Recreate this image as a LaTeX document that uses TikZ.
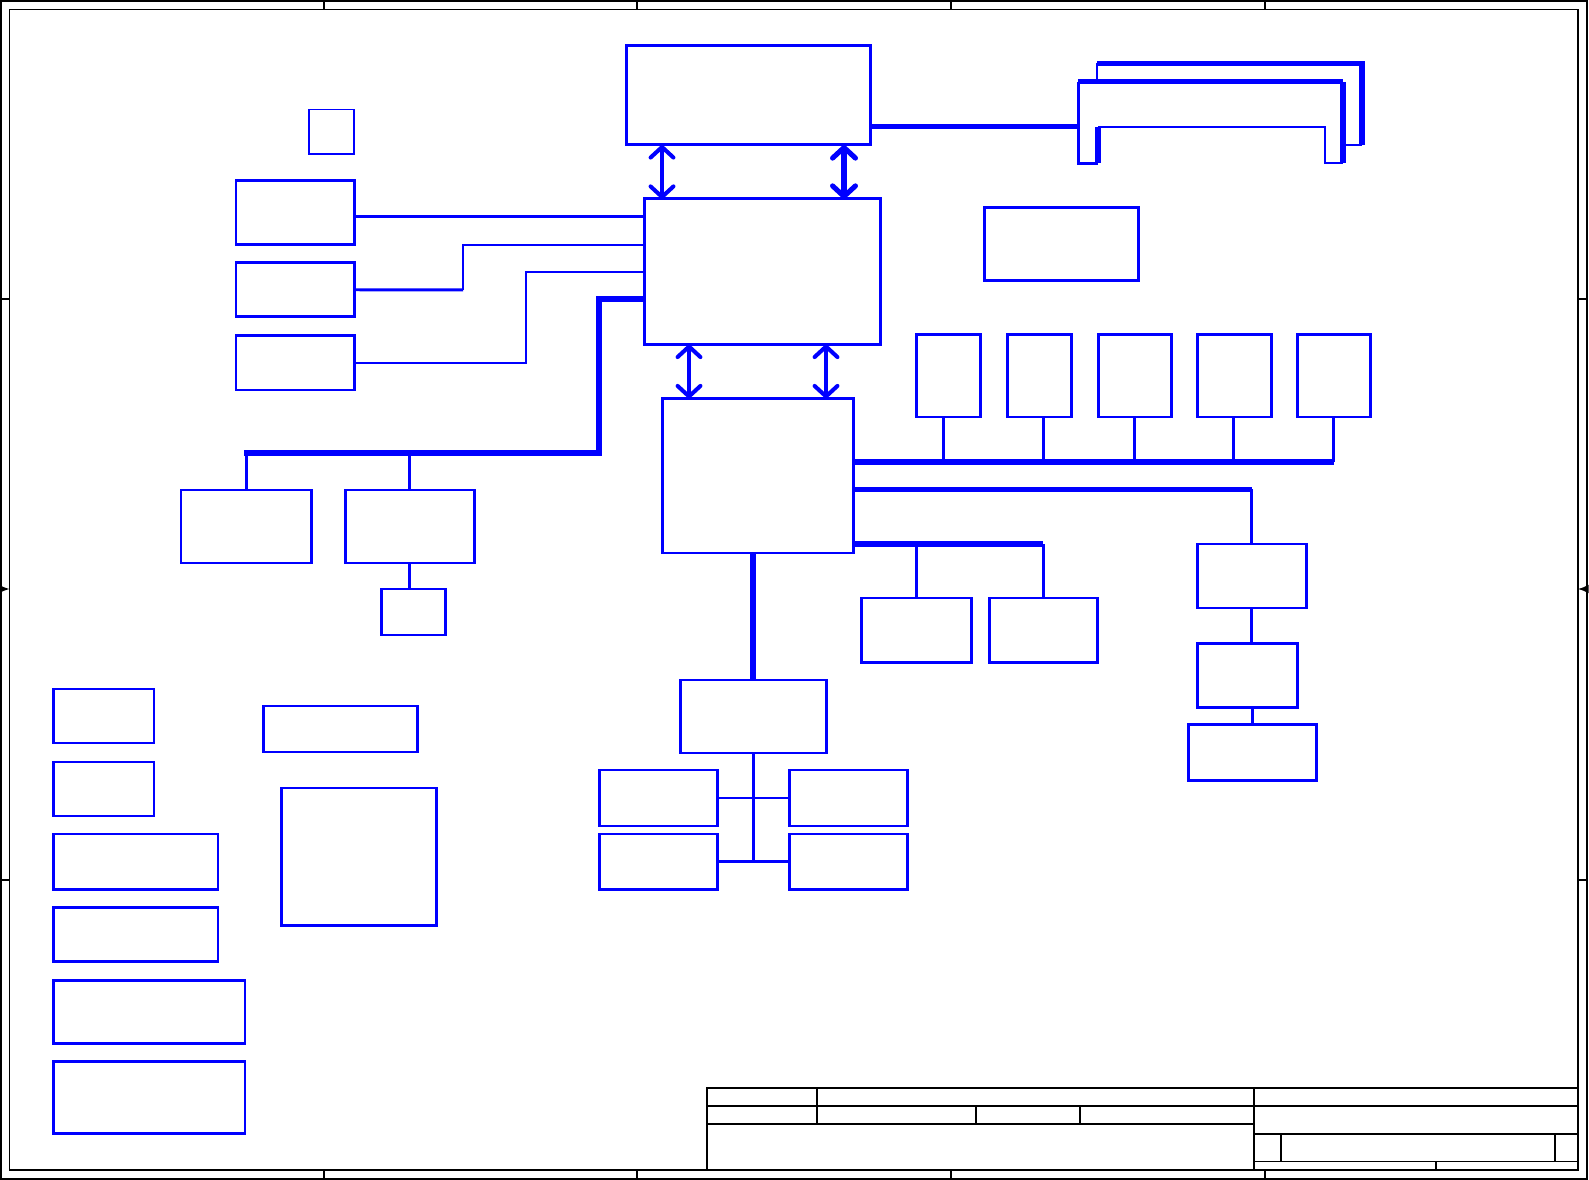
\documentclass[tikz,border=0pt]{standalone}
\usetikzlibrary{arrows.meta, calc, fit, positioning}

\tikzset{
  blk/.style={draw=blue, line width=0.85pt, inner sep=0pt, outer sep=0pt},
  thinblk/.style={draw=blue, line width=0.4pt, inner sep=0pt, outer sep=0pt},
  wire/.style={blue, line width=0.85pt},
  fine/.style={blue, line width=0.55pt},
  bus/.style={blue, line width=1.5pt},
  dblarr/.style={blue, line width=1.15pt,
    {Straight Barb[round, length=3pt, width=6.5pt]}-{Straight Barb[round, length=3pt, width=6.5pt]}},
  frm/.style={black, line width=0.45pt},
}

\begin{document}
\begin{tikzpicture}[x=0.01cm, y=-0.01cm]
  \useasboundingbox (0,0) rectangle (1589,1180);
  % sheet frame
  \draw[frm] (1,1) rectangle (1587,1179);
  \draw[frm] (9.5,9.5) rectangle (1578,1170);
  \foreach \x in {324,637,951,1265} {
    \draw[frm] (\x,1) -- (\x,9.5);
    \draw[frm] (\x,1170) -- (\x,1179);
  }
  \foreach \y in {299,880} {
    \draw[frm] (1,\y) -- (9.5,\y);
    \draw[frm] (1578,\y) -- (1587,\y);
  }
  \draw[frm, -{Latex[length=3pt, width=2.5pt]}] (1,589) -- (9.5,589);
  \draw[frm, -{Latex[length=3pt, width=2.5pt]}] (1587,589) -- (1578,589);

  % title block
  \draw[frm] (707,1088) rectangle (1578,1170);
  \draw[frm] (707,1106) -- (1578,1106);
  \draw[frm] (707,1124) -- (1254,1124);
  \draw[frm] (1254,1088) -- (1254,1170);
  \draw[frm] (817,1088) -- (817,1124);
  \draw[frm] (976,1106) -- (976,1124);
  \draw[frm] (1080,1106) -- (1080,1124);
  \draw[frm] (1254,1134) -- (1578,1134);
  \draw[frm] (1254,1161.5) -- (1578,1161.5);
  \draw[frm] (1281,1134) -- (1281,1161.5);
  \draw[frm] (1555,1134) -- (1555,1161.5);
  \draw[frm] (1436,1161.5) -- (1436,1170);

  % main blocks
  \node[blk, fit={(626,45.6) (870.5,145)}] (cpu) {};
  \node[thinblk, fit={(309,109.5) (354,154)}] (clk) {};
  \node[blk, fit={(236,181) (354,245)}] (bxA) {};
  \node[blk, fit={(236,262.5) (354,317)}] (bxB) {};
  \node[blk, fit={(236,335.4) (354,390)}] (bxC) {};
  \node[blk, fit={(644.5,199) (880,344.5)}] (nb) {};
  \node[blk, fit={(662,398.5) (853,553)}] (sb) {};
  \node[blk, fit={(984,207.7) (1138,280.7)}] (gfx) {};
  \foreach \n/\xa/\xb in {1/916/980, 2/1007/1071, 3/1098.5/1171.5, 4/1197/1271, 5/1297/1370}
    \node[blk, fit={(\xa,335) (\xb,417)}] (slot\n) {};

  % left side
  \node[blk, fit={(181,490) (311,563)}] (bxD) {};
  \node[blk, fit={(345,490) (474,563)}] (bxE) {};
  \node[blk, fit={(381,589) (445,635)}] (bxF) {};

  % right side
  \node[blk, fit={(1197,544) (1306,608)}] (bxH) {};
  \node[blk, fit={(1197,643.5) (1297,707.4)}] (bxI) {};
  \node[blk, fit={(1188,724.6) (1316,780.3)}] (bxJ) {};
  \node[blk, fit={(861.4,598) (971,662.7)}] (bxK) {};
  \node[blk, fit={(989,598) (1097.5,662.7)}] (bxL) {};

  % below south bridge
  \node[blk, fit={(680,680) (826,753)}] (bxM) {};
  \node[blk, fit={(599,770) (717.5,826)}] (io1) {};
  \node[blk, fit={(789.4,770) (907,826)}] (io2) {};
  \node[blk, fit={(599,834) (717.5,889)}] (io3) {};
  \node[blk, fit={(789.4,834) (907,889)}] (io4) {};

  % loose blocks
  \node[blk, fit={(53.7,689) (154,743)}] (pw1) {};
  \node[blk, fit={(53.7,762) (154,816)}] (pw2) {};
  \node[blk, fit={(53.7,834) (218,889)}] (pw3) {};
  \node[blk, fit={(53.7,907) (218,961)}] (pw4) {};
  \node[blk, fit={(53.7,980) (245,1043)}] (pw5) {};
  \node[blk, fit={(53.7,1061) (245,1133)}] (pw6) {};
  \node[blk, fit={(263.5,706) (417.5,752)}] (misc1) {};
  \node[blk, fit={(281,788) (436,925)}] (misc2) {};

  % memory slot outline
  \coordinate (dimm) at (1078,126.7);
  \draw[bus] (1078,81.7) -- (1343,81.7);
  \draw[wire] (1078,81.7) -- (1078,163.3) -- (1098,163.3);
  \draw[bus] (1098,163.3) -- (1098,126.7);
  \draw[fine] (1098,126.7) -- (1325,126.7) -- (1325,163.3) -- (1343,163.3);
  \draw[bus] (1343,163.3) -- (1343,81.7);
  \draw[bus] (1097,63.3) -- (1362,63.3) -- (1362,145);
  \draw[fine] (1362,145) -- (1343,145);
  \draw[fine] (1097,63.3) -- (1097,81.7);
  \draw[bus] (cpu.east |- dimm) -- (dimm);

  % cpu / nb / sb links
  \draw[dblarr] (cpu.south -| 662,0) -- (nb.north -| 662,0);
  \draw[dblarr, line width=1.45pt] (cpu.south -| 844,0) -- (nb.north -| 844,0);
  \draw[dblarr] (nb.south -| 689,0) -- (sb.north -| 689,0);
  \draw[dblarr] (nb.south -| 826,0) -- (sb.north -| 826,0);

  % nb left links
  \draw[wire] (bxA.east |- 0,217) -- (nb.west |- 0,217);
  \draw[wire] (bxB.east) -- (463,290);
  \draw[fine] (463,290) |- (nb.west |- 0,245);
  \draw[fine] (bxC.east) -| (526,271.7) -- (nb.west |- 0,271.7);
  \coordinate (lbus) at (244,453);
  \draw[bus] (nb.west |- 0,299) -| (599,453) -- (lbus);
  \draw[wire] (bxD.north) -- (bxD.north |- lbus);
  \draw[wire] (bxE.north) -- (bxE.north |- lbus);
  \draw[wire] (bxE.south) -- (bxE.south |- bxF.north);

  % sb right buses
  \draw[bus] (sb.east |- 0,462) -- (slot5.south |- 0,462);
  \foreach \n/\x in {1/943.5, 2/1043, 3/1134, 4/1233, 5/1333.5}
    \draw[wire] (slot\n.south -| \x,0) -- (\x,462);
  \draw[bus] (sb.east |- 0,489.5) -- (bxH.north |- 0,489.5);
  \draw[wire] (bxH.north |- 0,489.5) -- (bxH.north);
  \draw[wire] (bxH.south) -- (bxH.south |- bxI.north);
  \draw[wire] (bxJ.north) -- (bxJ.north |- bxI.south);
  \draw[bus] (sb.east |- 0,544) -- (bxL.north |- 0,544);
  \draw[wire] (bxK.north) -- (bxK.north |- 0,544);
  \draw[wire] (bxL.north) -- (bxL.north |- 0,544);

  % sb down
  \draw[bus] (sb.south -| bxM.north) -- (bxM.north);
  \draw[wire] (bxM.south) -- (bxM.south |- io3.east);
  \draw[wire] (io1.east) -- (io2.west);
  \draw[wire] (io3.east) -- (io4.west);
\end{tikzpicture}
\end{document}
